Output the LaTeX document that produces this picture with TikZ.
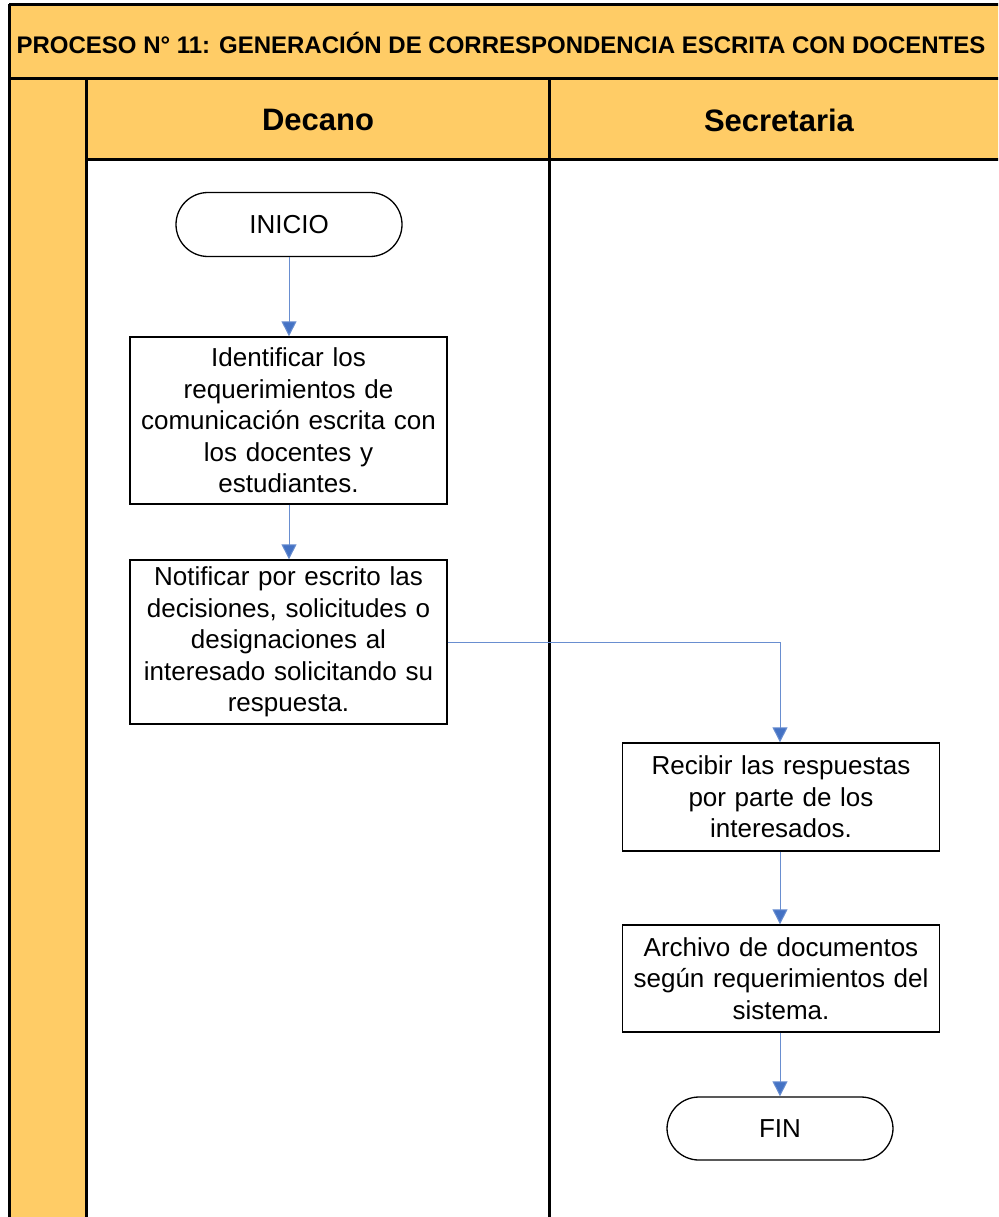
\documentclass[tikz,border=0pt]{standalone}
\usepackage{fontspec}
\setmainfont{Liberation Sans}
\usetikzlibrary{arrows.meta}
\definecolor{laneorange}{RGB}{255,204,102}
\definecolor{flowblue}{RGB}{68,114,196}
\begin{document}
\begin{tikzpicture}[x=1pt,y=-1pt,
  frame/.style={line width=3pt,black},
  stepbox/.style={draw,line width=1.3pt,minimum width=317pt,text width=310pt,align=center,
    inner sep=0pt,font=\fontsize{26}{31.5}\selectfont},
  terminal/.style={draw,line width=1.3pt,rounded corners=32pt,minimum width=226pt,
    minimum height=64pt,font=\fontsize{26}{30}\selectfont},
  flow/.style={flowblue!80,line width=1pt,-{Triangle[length=15pt,width=15pt,fill=flowblue]}},
  lanehead/.style={font=\bfseries\fontsize{31}{36}\selectfont}]
\useasboundingbox (0,0) rectangle (998,1217);
\clip (0,0) rectangle (998,1217);
% background bands
\fill[laneorange] (9,5) rectangle (1010,79);
\fill[laneorange] (9,79) rectangle (86,1230);
\fill[laneorange] (86,79) rectangle (1010,160);
% frame lines
\draw[frame] (9,5) -- (1010,5);
\draw[frame] (9,4) -- (9,1230);
\draw[frame] (9,79) -- (1010,79);
\draw[frame] (86,79) -- (86,1230);
\draw[frame] (86,160) -- (1010,160);
\draw[frame] (549,79) -- (549,1230);
% titles
\node[font=\bfseries\fontsize{24}{28}\selectfont] (title) at (501,43)
  {PROCESO N° 11: GENERACIÓN DE CORRESPONDENCIA ESCRITA CON DOCENTES};
\node[lanehead] (decano) at (318,120) {Decano};
\node[lanehead] (secre) at (779,120) {Secretaria};
% flow nodes
\node[terminal] (inicio) at (289,224.5) {INICIO};
\node[stepbox,minimum height=167pt] (ident) at (288.5,420.5)
  {Identificar los\\ requerimientos de\\ comunicación escrita con\\ los docentes y\\ estudiantes.};
\node[stepbox,minimum height=164pt] (notif) at (288.5,642)
  {Notificar por escrito las\\ decisiones, solicitudes o\\ designaciones al\\ interesado solicitando su\\ respuesta.};
\node[stepbox,minimum height=108pt] (recib) at (781,797)
  {Recibir las respuestas\\ por parte de los\\ interesados.};
\node[stepbox,minimum height=107pt] (archi) at (781,978.5)
  {Archivo de documentos\\ según requerimientos del\\ sistema.};
\node[terminal,minimum height=63pt] (fin) at (780,1128.5) {FIN};
\coordinate (turn) at (780,642);
% connectors
\draw[flow] (inicio.south) -- (ident.north -| inicio.south);
\draw[flow] (ident.south -| inicio.south) -- (notif.north -| inicio.south);
\draw[flow] (notif.east) -- (turn) -- (recib.north -| turn);
\draw[flow] (recib.south -| turn) -- (archi.north -| turn);
\draw[flow] (archi.south -| turn) -- (fin.north);
\end{tikzpicture}
\end{document}
